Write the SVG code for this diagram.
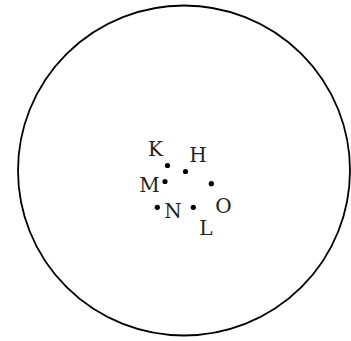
<svg xmlns="http://www.w3.org/2000/svg" width="351" height="341" viewBox="0 0 351 341">
<style>
.lbl{font-family:"DejaVu Serif",serif;font-size:20px;fill:#222;text-anchor:middle}
.pt{fill:#000}
</style>
<rect width="351" height="341" fill="#fff"/>
<g id="boundary">
<ellipse cx="184" cy="170.5" rx="166" ry="165" fill="none" stroke="#000" stroke-width="1.8"/>
</g>
<g id="connectors"></g>
<g id="node-K"><circle class="pt" cx="167.5" cy="165.5" r="2.6"/><text class="lbl" x="155.5" y="156">K</text></g>
<g id="node-H"><circle class="pt" cx="185.5" cy="171.5" r="2.6"/><text class="lbl" x="198" y="162">H</text></g>
<g id="node-M"><circle class="pt" cx="165" cy="181.5" r="2.6"/><text class="lbl" x="149.5" y="192">M</text></g>
<g id="node-O"><circle class="pt" cx="211.3" cy="183.7" r="2.6"/><text class="lbl" x="223.5" y="213">O</text></g>
<g id="node-N"><circle class="pt" cx="157.3" cy="207.3" r="2.6"/><text class="lbl" x="173" y="218">N</text></g>
<g id="node-L"><circle class="pt" cx="193.3" cy="207.3" r="2.6"/><text class="lbl" x="206" y="235">L</text></g>
</svg>
